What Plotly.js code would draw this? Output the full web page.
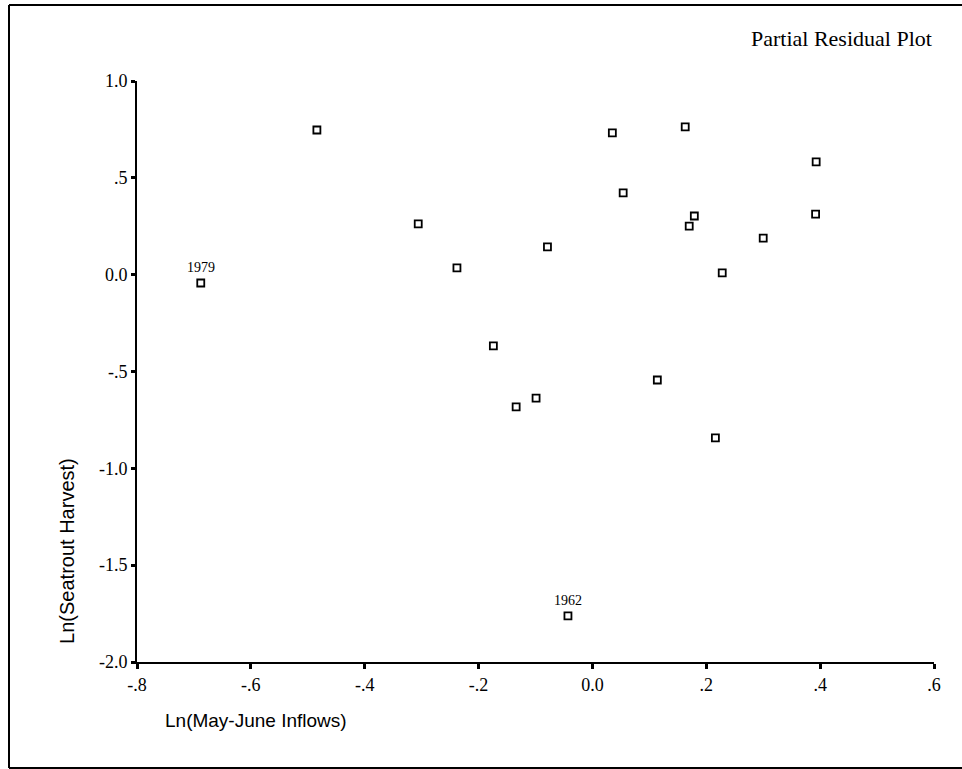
<!DOCTYPE html>
<html>
<head>
<meta charset="utf-8">
<script src="https://cdn.plot.ly/plotly-3.0.1.min.js"></script>
<style>html,body{margin:0;padding:0;background:#fff;}#chart{width:962px;height:769px;}</style>
</head>
<body>
<div id="chart"></div>
<script>
var inflows = [-0.688, -0.484, -0.306, -0.238, -0.174, -0.134, -0.099, -0.079, -0.043, 0.035, 0.054, 0.114, 0.163, 0.170, 0.179, 0.216, 0.228, 0.300, 0.393, 0.392];
var harvest = [-0.043, 0.747, 0.262, 0.035, -0.368, -0.683, -0.637, 0.143, -1.762, 0.732, 0.422, -0.544, 0.763, 0.251, 0.303, -0.843, 0.009, 0.189, 0.582, 0.313];
var labelYears = ["1979", "1962"];
var labelX = [-0.688, -0.043];
var labelY = [-0.043, -1.762];
var xTickVals = [-0.8, -0.6, -0.4, -0.2, 0.0, 0.2, 0.4, 0.6];
var xTickText = ["-.8", "-.6", "-.4", "-.2", "0.0", ".2", ".4", ".6"];
var yTickVals = [-2.0, -1.5, -1.0, -0.5, 0.0, 0.5, 1.0];
var yTickText = ["-2.0", "-1.5", "-1.0", "-.5", "0.0", ".5", "1.0"];

var serif = "Liberation Serif, Times New Roman, serif";
var sans = "Liberation Sans, Arial, sans-serif";

var trace = {
  x: inflows, y: harvest, mode: "markers", type: "scatter",
  marker: {symbol: "square-open", size: 7, color: "#000", line: {width: 1.8, color: "#000"}},
  hoverinfo: "x+y"
};

var annotations = labelYears.map(function(t, i) {
  return {x: labelX[i], y: labelY[i], xref: "x", yref: "y", text: t, showarrow: false,
    yshift: 15, font: {family: serif, size: 14, color: "#000"}};
});
annotations.push({xref: "paper", yref: "paper", x: 1.0, y: 1.074, xanchor: "right", yanchor: "middle",
  text: "Partial Residual Plot", showarrow: false, font: {family: serif, size: 22, color: "#000"}});
annotations.push({xref: "paper", yref: "paper", x: -0.088, y: 0.191, xanchor: "center", yanchor: "middle",
  textangle: -90, text: "Ln(Seatrout Harvest)", showarrow: false, font: {family: sans, size: 20, color: "#000"}});
annotations.push({xref: "paper", yref: "paper", x: 0.033, y: -0.1, xanchor: "left", yanchor: "middle",
  text: "Ln(May-June Inflows)", showarrow: false, font: {family: sans, size: 19, color: "#000"}});

var shapes = [
  {type: "line", xref: "paper", yref: "paper", x0: -0.1606, x1: 1.04, y0: 1.1308, y1: 1.1308, line: {color: "#000", width: 2}},
  {type: "line", xref: "paper", yref: "paper", x0: -0.1606, x1: -0.1606, y0: -0.1824, y1: 1.1308, line: {color: "#000", width: 2}},
  {type: "line", xref: "paper", yref: "paper", x0: -0.1606, x1: 1.04, y0: -0.1824, y1: -0.1824, line: {color: "#000", width: 2}}
];

var layout = {
  width: 962, height: 769,
  margin: {l: 137, r: 28, t: 81, b: 107},
  paper_bgcolor: "#fff", plot_bgcolor: "#fff",
  showlegend: false,
  xaxis: {range: [-0.8, 0.6], tickvals: xTickVals, ticktext: xTickText, showgrid: false, zeroline: false,
    showline: true, linecolor: "#000", linewidth: 2, ticks: "outside", ticklen: 5, tickwidth: 3, tickcolor: "#000",
    tickfont: {family: serif, size: 18, color: "#000"}},
  yaxis: {range: [-2.0, 1.0], tickvals: yTickVals, ticktext: yTickText, showgrid: false, zeroline: false,
    showline: true, linecolor: "#000", linewidth: 2, ticks: "outside", ticklen: 4, tickwidth: 3, tickcolor: "#000",
    tickfont: {family: serif, size: 18, color: "#000"}},
  annotations: annotations,
  shapes: shapes
};

Plotly.newPlot("chart", [trace], layout, {displayModeBar: false, staticPlot: true});
</script>
</body>
</html>
